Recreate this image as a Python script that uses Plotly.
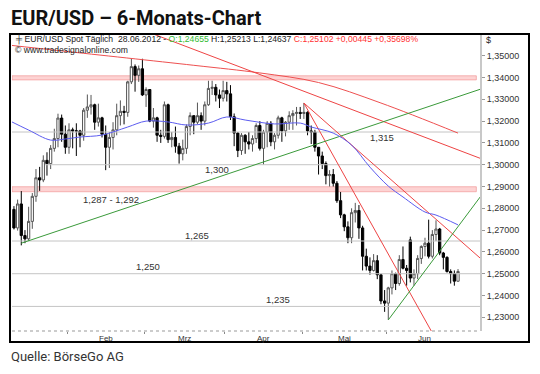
import pandas as pd
import plotly.graph_objects as go

# ---------------- data ----------------
dates = pd.bdate_range("2012-01-09", "2012-06-28")

opens = [
    1.2718, 1.2765, 1.2795, 1.2710, 1.2820, 1.2675, 1.2660, 1.2740, 1.2855, 1.2940,
    1.2930, 1.3020, 1.3005, 1.3075, 1.3120, 1.3214, 1.3140,
    1.3080, 1.3160, 1.3155, 1.3155, 1.3135, 1.3250, 1.3265, 1.3275, 1.3195, 1.3215,
    1.3140, 1.3080, 1.3125, 1.3160, 1.3225, 1.3245, 1.3240, 1.3380, 1.3450, 1.3410, 1.3440,
    1.3320, 1.3345, 1.3200, 1.3215, 1.3135, 1.3130, 1.3275, 1.3115, 1.3125, 1.3085, 1.3050,
    1.3075, 1.3175, 1.3225, 1.3195, 1.3225, 1.3200, 1.3275, 1.3350, 1.3355, 1.3320, 1.3305,
    1.3340, 1.3325, 1.3220, 1.3145, 1.3065, 1.3135, 1.3105, 1.3095, 1.3120, 1.3180, 1.3075,
    1.3150, 1.3190, 1.3105, 1.3135, 1.3215, 1.3155, 1.3195, 1.3225, 1.3235, 1.3240,
    1.3235, 1.3240, 1.3155, 1.3150, 1.3080, 1.3040, 1.3005, 1.2950, 1.2955, 1.2915, 1.2835,
    1.2770, 1.2715, 1.2665, 1.2780, 1.2790, 1.2710, 1.2580, 1.2535, 1.2515, 1.2560, 1.2495,
    1.2375,
    1.2365, 1.2435, 1.2500, 1.2455, 1.2565, 1.2525, 1.2655, 1.2480, 1.2500, 1.2570, 1.2625,
    1.2640, 1.2580, 1.2680, 1.2705, 1.2595, 1.2575, 1.2510, 1.2500, 1.24655,
]
highs = [
    1.2812, 1.2815, 1.2810, 1.2840, 1.2879, 1.2700, 1.2807, 1.2870, 1.2980, 1.2990,
    1.3043, 1.3057, 1.3090, 1.3165, 1.3234, 1.3230, 1.3180,
    1.3190, 1.3170, 1.3190, 1.3160, 1.3260, 1.3322, 1.3320, 1.3280, 1.3280, 1.3220,
    1.3180, 1.3150, 1.3195, 1.3280, 1.3295, 1.3270, 1.3385, 1.3485, 1.3460, 1.3455, 1.3486,
    1.3355, 1.3347, 1.3260, 1.3220, 1.3160, 1.3290, 1.3280, 1.3150, 1.3175, 1.3100, 1.3115,
    1.3185, 1.3240, 1.3225, 1.3285, 1.3240, 1.3290, 1.3385, 1.3385, 1.3370, 1.3345, 1.3385,
    1.3380, 1.3365, 1.3235, 1.3150, 1.3145, 1.3140, 1.3150, 1.3135, 1.3190, 1.3200, 1.3160,
    1.3200, 1.3200, 1.3145, 1.3225, 1.3220, 1.3200, 1.3245, 1.3250, 1.3265, 1.3265,
    1.3283, 1.3245, 1.3180, 1.3160, 1.3080, 1.3060, 1.3015, 1.2975, 1.2980, 1.2925, 1.2875,
    1.2775, 1.2740, 1.2800, 1.2825, 1.2815, 1.2720, 1.2615, 1.2575, 1.2590, 1.2585, 1.2500,
    1.2425,
    1.2440, 1.2515, 1.2505, 1.2585, 1.2625, 1.2540, 1.2670, 1.2520, 1.2585, 1.2630, 1.2665,
    1.2748, 1.2700, 1.2745, 1.2710, 1.2600, 1.2580, 1.2520, 1.2515, 1.25213,
]
lows = [
    1.2700, 1.2740, 1.2703, 1.2698, 1.2630, 1.2640, 1.2650, 1.2706, 1.2830, 1.2880,
    1.2920, 1.2950, 1.2980, 1.3060, 1.3080, 1.3105, 1.3050,
    1.3050, 1.3075, 1.3040, 1.3080, 1.3110, 1.3215, 1.3230, 1.3160, 1.3175, 1.3125,
    1.2975, 1.2985, 1.3070, 1.3135, 1.3180, 1.3185, 1.3220, 1.3370, 1.3335, 1.3380, 1.3315,
    1.3265, 1.3195, 1.3170, 1.3105, 1.3100, 1.3120, 1.3100, 1.3080, 1.3055, 1.3005, 1.3020,
    1.3050, 1.3135, 1.3140, 1.3185, 1.3160, 1.3180, 1.3270, 1.3320, 1.3290, 1.3260, 1.3290,
    1.3290, 1.3205, 1.3085, 1.3035, 1.3045, 1.3050, 1.3070, 1.3060, 1.3100, 1.3065, 1.3000,
    1.3080, 1.3085, 1.3070, 1.3120, 1.3105, 1.3130, 1.3160, 1.3160, 1.3180, 1.3210,
    1.3210, 1.3135, 1.3095, 1.3060, 1.2955, 1.2980, 1.2910, 1.2900, 1.2900, 1.2825, 1.2755,
    1.2695, 1.2640, 1.2640, 1.2735, 1.2660, 1.2515, 1.2515, 1.2495, 1.2510, 1.2475, 1.2360,
    1.2325,
    1.2288, 1.2405, 1.2425, 1.2445, 1.2520, 1.2445, 1.2460, 1.2445, 1.2475, 1.2545, 1.2580,
    1.2570, 1.2570, 1.2650, 1.2585, 1.2520, 1.2505, 1.2455, 1.2445, 1.24637,
]
closes = [
    1.2765, 1.2795, 1.2710, 1.2820, 1.2675, 1.2660, 1.2740, 1.2855, 1.2940, 1.2930,
    1.3020, 1.3005, 1.3075, 1.3120, 1.3214, 1.3140, 1.3080,
    1.3160, 1.3155, 1.3155, 1.3135, 1.3250, 1.3265, 1.3275, 1.3195, 1.3215, 1.3140,
    1.3080, 1.3125, 1.3160, 1.3225, 1.3245, 1.3240, 1.3380, 1.3450, 1.3410, 1.3440, 1.3320,
    1.3345, 1.3200, 1.3215, 1.3135, 1.3130, 1.3275, 1.3115, 1.3125, 1.3085, 1.3050, 1.3075,
    1.3175, 1.3225, 1.3195, 1.3225, 1.3200, 1.3275, 1.3350, 1.3355, 1.3320, 1.3305, 1.3340,
    1.3325, 1.3220, 1.3145, 1.3065, 1.3135, 1.3105, 1.3095, 1.3120, 1.3180, 1.3075, 1.3150,
    1.3190, 1.3105, 1.3135, 1.3215, 1.3155, 1.3195, 1.3225, 1.3235, 1.3240, 1.3235,
    1.3240, 1.3155, 1.3150, 1.3080, 1.3040, 1.3005, 1.2950, 1.2955, 1.2915, 1.2835, 1.2770,
    1.2715, 1.2665, 1.2780, 1.2790, 1.2710, 1.2580, 1.2535, 1.2515, 1.2560, 1.2495, 1.2375,
    1.2365,
    1.2435, 1.2500, 1.2455, 1.2565, 1.2525, 1.2515, 1.2480, 1.2500, 1.2570, 1.2625, 1.2640,
    1.2580, 1.2680, 1.2705, 1.2595, 1.2575, 1.2510, 1.2500, 1.24657, 1.25102,
]

# blue moving average
ma_dates = ["2012-01-10", "2012-01-17", "2012-01-25", "2012-01-31", "2012-02-06", "2012-02-14",
            "2012-02-23", "2012-03-01", "2012-03-09", "2012-03-16", "2012-03-26", "2012-04-02",
            "2012-04-09", "2012-04-19", "2012-04-30", "2012-05-03", "2012-05-11", "2012-05-18",
            "2012-05-25", "2012-06-01", "2012-06-07", "2012-06-15", "2012-06-20", "2012-06-28"]
ma_values = [1.3200, 1.3159, 1.3113, 1.3118, 1.3127, 1.3136, 1.3173, 1.3200, 1.3196, 1.3182,
             1.3191, 1.3219, 1.3205, 1.3187, 1.3191, 1.3173, 1.3145, 1.3090, 1.2989, 1.2902,
             1.2852, 1.2783, 1.2769, 1.2724]

# long red curve
ma_long_dates = ["2012-01-10", "2012-01-30", "2012-03-20", "2012-04-13", "2012-05-07",
                 "2012-05-30", "2012-06-28"]
ma_long_values = [1.3548, 1.3522, 1.3456, 1.3421, 1.3377, 1.3283, 1.3145]

# trend lines: (start date, start value, second date, second value)
red_trends = [
    ("2012-03-13", 1.3561, "2012-06-28", 1.3068),
    ("2012-05-01", 1.3283, "2012-06-01", 1.2590),
    ("2012-05-01", 1.3283, "2012-06-28", 1.2661),
]
green_trends = [
    ("2012-01-13", 1.2640, "2012-06-28", 1.3312),
    ("2012-06-01", 1.2288, "2012-06-28", 1.2716),
]

# support / resistance
levels = [1.315, 1.300, 1.265, 1.250, 1.235]
level_starts = ["2012-01-10", "2012-01-25", "2012-01-10", "2012-01-10", "2012-01-10"]
level_labels = ["1,315", "1,300", "1,265", "1,250", "1,235"]
bands = [(1.3389, 1.3408), (1.2876, 1.2899)]
band_label = "1,287 - 1,292"

month_names = ["Feb", "Mrz", "Apr", "Mai", "Jun"]
y_ticks = [1.23, 1.24, 1.25, 1.26, 1.27, 1.28, 1.29, 1.30, 1.31, 1.32, 1.33, 1.34, 1.35]

# ---------------- helpers ----------------
W, H = 540, 374
idx = {d.strftime("%Y-%m-%d"): i for i, d in enumerate(dates)}
xs = list(range(len(dates)))
X_MIN, X_MAX = 1.47, 128.99
Y_MIN, Y_MAX = 1.22372, 1.35950


def px_x(p):
    return p / W


def px_y(p):
    return (H - p) / H


fig = go.Figure()

# grey levels
for lv, st in zip(levels, level_starts):
    fig.add_trace(go.Scatter(x=[idx[st] - 1.5, X_MAX], y=[lv, lv], mode="lines",
                             line=dict(color="#c4c4c4", width=1), hoverinfo="skip"))

# pink bands
for lo, hi in bands:
    fig.add_shape(type="rect", xref="x", yref="y", x0=X_MIN, x1=X_MAX - 1, y0=lo, y1=hi,
                  fillcolor="rgba(252,196,196,0.75)", line=dict(color="rgba(240,140,140,0.6)", width=1),
                  layer="below")

# long red curve
fig.add_trace(go.Scatter(x=[idx[d] for d in ma_long_dates], y=ma_long_values, mode="lines",
                         line=dict(color="#ee5050", width=1, shape="spline"), hoverinfo="skip"))


def trend(d0, v0, d1, v1, extend_left=False):
    i0, i1 = idx[d0], idx[d1]
    slope = (v1 - v0) / (i1 - i0)
    xa = X_MIN - 2 if extend_left else i0
    return [xa, X_MAX + 2], [v0 + slope * (xa - i0), v0 + slope * (X_MAX + 2 - i0)]


for k, (d0, v0, d1, v1) in enumerate(red_trends):
    tx, ty = trend(d0, v0, d1, v1, extend_left=(k == 0))
    fig.add_trace(go.Scatter(x=tx, y=ty, mode="lines", line=dict(color="#ee4444", width=1),
                             hoverinfo="skip"))
for d0, v0, d1, v1 in green_trends:
    tx, ty = trend(d0, v0, d1, v1)
    fig.add_trace(go.Scatter(x=tx, y=ty, mode="lines", line=dict(color="#3a9a3a", width=1),
                             hoverinfo="skip"))

# blue average
fig.add_trace(go.Scatter(x=[idx[d] for d in ma_dates], y=ma_values, mode="lines",
                         line=dict(color="#5c5cf0", width=1, shape="spline"), hoverinfo="skip"))

# candles
fig.add_trace(go.Candlestick(
    x=xs, open=opens, high=highs, low=lows, close=closes,
    increasing=dict(fillcolor="#ffffff", line=dict(color="#555555", width=1)),
    decreasing=dict(fillcolor="#000000", line=dict(color="#000000", width=1)),
    whiskerwidth=0, hoverinfo="skip"))

# month ticks
month_starts = []
month_mid = []
for m in [2, 3, 4, 5, 6]:
    ins = [i for i, d in enumerate(dates) if d.month == m]
    month_starts.append(ins[0])
    first = pd.Timestamp(f"2012-{m:02d}-01")
    n_days = len(pd.bdate_range(first, first + pd.offsets.MonthEnd(0)))
    month_mid.append(ins[0] + (n_days - 1) / 2)

fig.update_layout(
    width=W, height=H, margin=dict(l=0, r=0, t=0, b=0),
    paper_bgcolor="white", plot_bgcolor="white", showlegend=False,
    separators=",.", boxgap=0.12,
    xaxis=dict(domain=[px_x(12), px_x(480)], range=[X_MIN, X_MAX], rangeslider=dict(visible=False),
               showgrid=False, zeroline=False, showline=False,
               tickmode="array", tickvals=[s - 0.5 for s in month_starts],
               ticktext=["" for _ in month_starts], ticks="outside", ticklen=2, tickcolor="#888"),
    yaxis=dict(domain=[px_y(331), px_y(35)], range=[Y_MIN, Y_MAX], side="right",
               showgrid=False, zeroline=False, showline=True, linecolor="#c8c8c8", linewidth=2,
               tickmode="array", tickvals=y_ticks, tickformat=".5f", ticks="outside", ticklen=3,
               tickcolor="#999", tickfont=dict(family="Liberation Sans", size=9, color="#333")),
)

# month labels
for name, mx in zip(month_names, month_mid):
    fig.add_annotation(x=mx, y=px_y(338), xref="x", yref="paper", text=name, showarrow=False,
                       yanchor="middle", font=dict(family="Liberation Sans", size=8, color="#333"))

# dotted bottom border
fig.add_shape(type="line", xref="paper", yref="paper", x0=px_x(12), x1=px_x(480),
              y0=px_y(331), y1=px_y(331), line=dict(color="#999", width=1, dash="dot"))
# outer frame
fig.add_shape(type="rect", xref="paper", yref="paper", x0=px_x(10), x1=px_x(529),
              y0=px_y(342), y1=px_y(34), line=dict(color="black", width=2))

# level labels
label_pos = [(102.2, -5), (57.2, -5), (51.9, 6), (38.5, 7), (73.9, 7)]
for lv, txt, (lx, dy) in zip(levels, level_labels, label_pos):
    fig.add_annotation(x=lx, y=lv, xref="x", yref="y", text=txt, showarrow=False, yshift=dy,
                       font=dict(family="Liberation Sans", size=9.5, color="#333"))
fig.add_annotation(x=28.5, y=bands[1][0], xref="x", yref="y", text=band_label, showarrow=False,
                   yshift=-8, font=dict(family="Liberation Sans", size=9.5, color="#333"))

# header inside chart
hdr = ('╪ EUR/USD Spot Täglich  28.06.2012 - <span style="color:#33bb33">O:1,24655</span> '
       'H:1,25213 L:1,24637 <span style="color:#ff3333">C:1,25102 +0,00445 +0,35698%</span>')
fig.add_annotation(x=px_x(13), y=px_y(40), xref="paper", yref="paper", xanchor="left",
                   yanchor="middle", text=hdr, showarrow=False,
                   font=dict(family="Liberation Sans", size=8.6, color="#222"))
fig.add_annotation(x=px_x(13), y=px_y(50), xref="paper", yref="paper", xanchor="left",
                   yanchor="middle", text="© www.tradesignalonline.com", showarrow=False,
                   font=dict(family="Liberation Sans", size=8.6, color="#222"))
fig.add_annotation(x=px_x(484), y=px_y(40), xref="paper", yref="paper", xanchor="left",
                   yanchor="middle", text="$", showarrow=False,
                   font=dict(family="Liberation Sans", size=9, color="#222"))

# title and source
fig.add_annotation(x=px_x(9), y=px_y(18), xref="paper", yref="paper", xanchor="left",
                   yanchor="middle", text="<b>EUR/USD – 6-Monats-Chart</b>", showarrow=False,
                   font=dict(family="Liberation Sans Narrow, Roboto", size=20, color="#111"))
fig.add_annotation(x=px_x(9), y=px_y(356), xref="paper", yref="paper", xanchor="left",
                   yanchor="middle", text="Quelle: BörseGo AG", showarrow=False,
                   font=dict(family="Roboto", size=13, color="#333"))

fig.write_html("out.html", config={"displayModeBar": False},
               post_script="document.body.style.margin='0';")
